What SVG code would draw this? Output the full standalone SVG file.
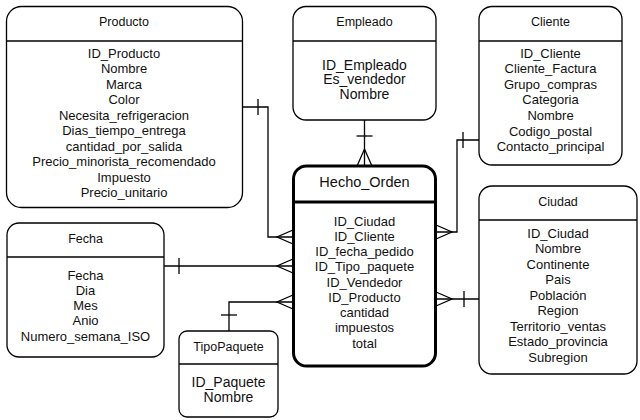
<svg xmlns="http://www.w3.org/2000/svg" width="640" height="420" viewBox="0 0 640 420">
<style>
.box{fill:#fff;stroke:#000;stroke-width:1.3}
.bold{fill:#fff;stroke:#000;stroke-width:3}
.sep{stroke:#000;stroke-width:1.3}
.sepb{stroke:#000;stroke-width:3}
text{font-family:"Liberation Sans",Arial,sans-serif;fill:#111;text-anchor:middle}
.t{font-size:12.5px}
.tb{font-size:14.5px}
.a{font-size:13px}
.a14{font-size:14px}
.c{fill:none;stroke:#000;stroke-width:1.3}
</style>
<rect width="640" height="420" fill="#fff"/>
<g id="connectors">
  <!-- Producto -> Hecho_Orden -->
  <polyline class="c" points="243,107 268,107 268,237 293,237"/>
  <line class="c" x1="258" y1="99" x2="258" y2="115"/>
  <polyline class="c" points="293,230 277,237 293,244"/>
  <!-- Fecha -> Hecho_Orden -->
  <line class="c" x1="164" y1="266" x2="293" y2="266"/>
  <line class="c" x1="179" y1="258" x2="179" y2="274"/>
  <polyline class="c" points="293,259 277,266 293,273"/>
  <!-- TipoPaquete -> Hecho_Orden -->
  <polyline class="c" points="229,331 229,302 293,302"/>
  <line class="c" x1="221" y1="315" x2="237" y2="315"/>
  <polyline class="c" points="293,295 277,302 293,309"/>
  <!-- Empleado -> Hecho_Orden -->
  <line class="c" x1="364.5" y1="120" x2="364.5" y2="165"/>
  <line class="c" x1="356.5" y1="136" x2="372.5" y2="136"/>
  <polyline class="c" points="357.5,165 364.5,149 371.5,165"/>
  <!-- Cliente -> Hecho_Orden -->
  <polyline class="c" points="479,140 457,140 457,232 436,232"/>
  <line class="c" x1="463" y1="132" x2="463" y2="148"/>
  <polyline class="c" points="436,225 452,232 436,239"/>
  <!-- Ciudad -> Hecho_Orden -->
  <line class="c" x1="436" y1="299" x2="479" y2="299"/>
  <line class="c" x1="464" y1="291" x2="464" y2="307"/>
  <polyline class="c" points="436,292 452,299 436,306"/>
</g>
<g id="producto">
  <rect class="box" x="6.5" y="6.5" width="236" height="201" rx="15"/>
  <line class="sep" x1="6.5" y1="41" x2="242.5" y2="41"/>
  <text class="t" x="124" y="25.5">Producto</text>
  <text class="a" x="124" y="57.5">ID_Producto</text>
  <text class="a" x="124" y="73">Nombre</text>
  <text class="a" x="124" y="88.5">Marca</text>
  <text class="a" x="124" y="104">Color</text>
  <text class="a" x="124" y="119.5">Necesita_refrigeracion</text>
  <text class="a" x="124" y="135">Dias_tiempo_entrega</text>
  <text class="a" x="124" y="150.5">cantidad_por_salida</text>
  <text class="a" x="124" y="166">Precio_minorista_recomendado</text>
  <text class="a" x="124" y="181.5">Impuesto</text>
  <text class="a" x="124" y="197">Precio_unitario</text>
</g>
<g id="empleado">
  <rect class="box" x="293" y="6.5" width="143" height="113.5" rx="13"/>
  <line class="sep" x1="293" y1="41" x2="436" y2="41"/>
  <text class="t" x="364.5" y="25.5">Empleado</text>
  <text class="a14" x="364.5" y="69.5">ID_Empleado</text>
  <text class="a14" x="364.5" y="84.2">Es_vendedor</text>
  <text class="a14" x="364.5" y="98.9">Nombre</text>
</g>
<g id="cliente">
  <rect class="box" x="479" y="6.5" width="143" height="158.5" rx="13"/>
  <line class="sep" x1="479" y1="41" x2="622" y2="41"/>
  <text class="t" x="550.5" y="25.5">Cliente</text>
  <text class="a" x="550.5" y="57.5">ID_Cliente</text>
  <text class="a" x="550.5" y="73.1">Cliente_Factura</text>
  <text class="a" x="550.5" y="88.7">Grupo_compras</text>
  <text class="a" x="550.5" y="104.3">Categoria</text>
  <text class="a" x="550.5" y="119.9">Nombre</text>
  <text class="a" x="550.5" y="135.5">Codigo_postal</text>
  <text class="a" x="550.5" y="151.1">Contacto_principal</text>
</g>
<g id="hecho_orden">
  <rect class="bold" x="293.5" y="166" width="142" height="200" rx="13"/>
  <line class="sepb" x1="293.5" y1="202" x2="435.5" y2="202"/>
  <text class="tb" x="364.5" y="187">Hecho_Orden</text>
  <text class="a" x="364.5" y="225.5">ID_Ciudad</text>
  <text class="a" x="364.5" y="240.75">ID_Cliente</text>
  <text class="a" x="364.5" y="256">ID_fecha_pedido</text>
  <text class="a" x="364.5" y="271.25">ID_Tipo_paquete</text>
  <text class="a" x="364.5" y="286.5">ID_Vendedor</text>
  <text class="a" x="364.5" y="301.75">ID_Producto</text>
  <text class="a" x="364.5" y="317">cantidad</text>
  <text class="a" x="364.5" y="332.25">impuestos</text>
  <text class="a" x="364.5" y="347.5">total</text>
</g>
<g id="ciudad">
  <rect class="box" x="479" y="186" width="158" height="188" rx="13"/>
  <line class="sep" x1="479" y1="220" x2="637" y2="220"/>
  <text class="t" x="558" y="205.5">Ciudad</text>
  <text class="a" x="558" y="237.5">ID_Ciudad</text>
  <text class="a" x="558" y="253">Nombre</text>
  <text class="a" x="558" y="268.5">Continente</text>
  <text class="a" x="558" y="284">Pais</text>
  <text class="a" x="558" y="299.5">Población</text>
  <text class="a" x="558" y="315">Region</text>
  <text class="a" x="558" y="330.5">Territorio_ventas</text>
  <text class="a" x="558" y="346">Estado_provincia</text>
  <text class="a" x="558" y="361.5">Subregion</text>
</g>
<g id="fecha">
  <rect class="box" x="7" y="223" width="157" height="134" rx="12"/>
  <line class="sep" x1="7" y1="257" x2="164" y2="257"/>
  <text class="t" x="85.5" y="242.5">Fecha</text>
  <text class="a" x="85.5" y="279.5">Fecha</text>
  <text class="a" x="85.5" y="294.75">Dia</text>
  <text class="a" x="85.5" y="310">Mes</text>
  <text class="a" x="85.5" y="325.25">Anio</text>
  <text class="a" x="85.5" y="340.5">Numero_semana_ISO</text>
</g>
<g id="tipopaquete">
  <rect class="box" x="179" y="331" width="99" height="86" rx="8"/>
  <line class="sep" x1="179" y1="364" x2="278" y2="364"/>
  <text class="t" x="228.5" y="350.5">TipoPaquete</text>
  <text class="a14" x="228.5" y="387">ID_Paquete</text>
  <text class="a14" x="228.5" y="402">Nombre</text>
</g>
</svg>
